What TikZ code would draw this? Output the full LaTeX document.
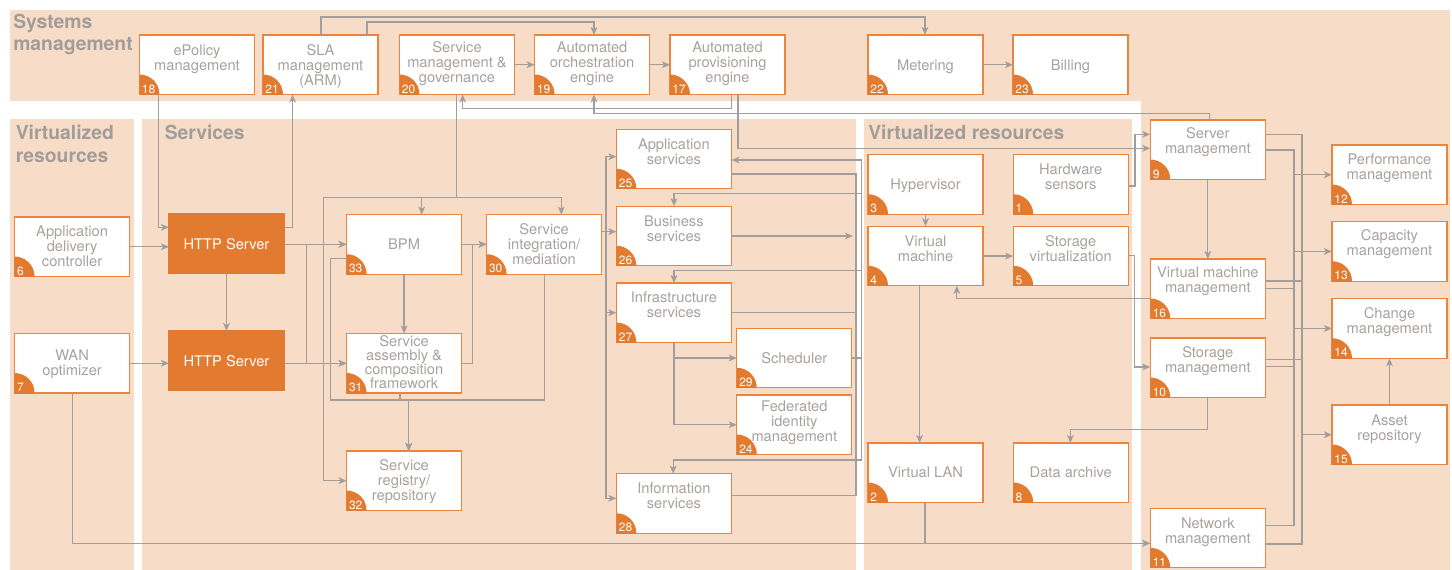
\documentclass[tikz,border=0pt]{standalone}
\usepackage{fontspec}
\setmainfont{TeX Gyre Heros}
\usetikzlibrary{arrows.meta,calc}
\definecolor{peach}{HTML}{F7DCC8}
\definecolor{org}{HTML}{E27A30}
\definecolor{orgline}{HTML}{E9853F}
\definecolor{txtg}{HTML}{A8A29E}
\definecolor{ttlg}{HTML}{A39D99}
\definecolor{lineg}{HTML}{A39E9B}
\tikzset{
  box/.style={draw=orgline, line width=0.85pt, fill=white, minimum width=86.25pt, minimum height=44.625pt, inner sep=0pt, outer sep=0pt},
  hbox/.style={draw=org, fill=org, line width=0.85pt, minimum width=86.25pt, minimum height=44.625pt, inner sep=0pt, outer sep=0pt, text=white, font=\fontsize{11}{11.25}\selectfont},
  lbl/.style={inner sep=0pt, align=center, text=txtg, font=\fontsize{11}{11.25}\selectfont},
  num/.style={inner sep=0pt, text=white, font=\fontsize{9}{9.5}\selectfont},
  ttl/.style={inner sep=0pt, align=left, text=ttlg, font=\fontsize{14.5}{16.5}\bfseries\selectfont},
  conn/.style={draw=lineg, line width=1pt},
  arr/.style={conn, -{Stealth[length=6pt,width=5pt,inset=1.5pt]}},
}
\newcommand\bx[7][]{%
  \node[box] (#2) at (#3+57.5,#4+29.75) {};
  \node[lbl,anchor=north,#1] (#2t) at (#3+57.5,#4+#6-12) {\rule{0pt}{9pt}#7};
  \begin{scope}
    \clip (#2.south west) rectangle (#2.north east);
    \fill[org] (#2.south west) circle[radius=20];
  \end{scope}
  \node[num,anchor=base west] (#2n) at ($(#2.south west)+(2.2,-1.4)$) {#5};
}
\begin{document}
\begin{tikzpicture}[x=0.75pt,y=-0.75pt]
\useasboundingbox (0,0) rectangle (1452,570);
% backgrounds
\fill[peach] (10,10) rectangle (1450,101);
\fill[peach] (1141,10) rectangle (1450,570);
\fill[peach] (10,119) rectangle (134,570);
\fill[peach] (142,119) rectangle (856,570);
\fill[peach] (864,119) rectangle (1132,570);
% titles
\node[ttl,anchor=north west] (tsys) at (13,13.6) {\rule{0pt}{11pt}Systems\\management};
\node[ttl,anchor=north west,font=\fontsize{14.5}{17.25}\bfseries\selectfont] (tvl) at (15.5,124.6) {\rule{0pt}{11pt}Virtualized\\resources};
\node[ttl,anchor=north west] (tsv) at (164.5,124.6) {\rule{0pt}{11pt}Services};
\node[ttl,anchor=north west] (tvm) at (868,124.6) {\rule{0pt}{11pt}Virtualized resources};
% boxes
\bx{n18}{139.5}{35}{18}{20}{ePolicy\\management}
\bx{n21}{263}{35}{21}{20}{SLA\\management\\(ARM)}
\bx{n20}{399.5}{35}{20}{17.7}{Service\\management \&\\governance}
\bx{n19}{534.6}{35}{19}{17.7}{Automated\\orchestration\\engine}
\bx{n17}{670}{35}{17}{17.7}{Automated\\provisioning\\engine}
\bx{n22}{868}{35}{22}{35}{Metering}
\bx{n23}{1013}{35}{23}{35}{Billing}
\bx{n6}{14.6}{217}{6}{19.7}{Application\\delivery\\controller}
\bx{n7}{14.6}{333.5}{7}{27}{WAN\\optimizer}
\node[hbox] (http1) at (226.5,243.75) {HTTP Server};
\node[hbox] (http2) at (226.5,360.75) {HTTP Server};
\bx{n33}{346.6}{214.7}{33}{35}{BPM}
\bx{n30}{486.6}{214.7}{30}{19.5}{Service\\integration/\\mediation}
\bx[font=\fontsize{11}{10.5}\selectfont]{n31}{346.6}{333.5}{31}{12.7}{Service\\assembly \&\\composition\\framework}
\bx{n32}{346.6}{451}{32}{19.7}{Service\\registry/\\repository}
\bx{n25}{616.4}{129.3}{25}{20}{Application\\services}
\bx{n26}{616.4}{206.3}{26}{19.7}{Business\\services}
\bx{n27}{616.4}{283}{27}{19.7}{Infrastructure\\services}
\bx{n29}{736.8}{328.3}{29}{35}{Scheduler}
\bx[font=\fontsize{11}{10.9}\selectfont]{n24}{736.8}{395}{24}{16.7}{Federated\\identity\\management}
\bx{n28}{616.4}{473.7}{28}{19.6}{Information\\services}
\bx{n3}{868}{154.7}{3}{34.6}{Hypervisor}
\bx{n1}{1013.2}{154.7}{1}{19.3}{Hardware\\sensors}
\bx{n4}{868}{226.3}{4}{20}{Virtual\\machine}
\bx{n5}{1013.2}{226.3}{5}{19.7}{Storage\\virtualization}
\bx{n2}{868}{443}{2}{34.7}{Virtual LAN}
\bx{n8}{1013.2}{443}{8}{34.7}{Data archive}
\bx{n9}{1150.3}{120}{9}{18.5}{Server\\management}
\bx{n16}{1150.3}{259}{16}{18.7}{Virtual machine\\management}
\bx{n10}{1150.3}{338}{10}{19}{Storage\\management}
\bx{n11}{1150.3}{508.3}{11}{20}{Network\\management}
\bx{n12}{1332}{145}{12}{19}{Performance\\management}
\bx{n13}{1332}{221.7}{13}{19}{Capacity\\management}
\bx{n14}{1332}{298.7}{14}{19.6}{Change\\management}
\bx{n15}{1332}{405}{15}{20}{Asset\\repository}
% top connectors
\draw[arr] (n21.north -| 321,0) |- (925,17) -- (n22.north -| 925,0);
\draw[arr] (n21.north -| 367,0) |- (594,22) -- (n19.north -| 594,0);
\draw[arr] (n20) -- (n19);
\draw[arr] (n19) -- (n17);
\draw[arr] (n22) -- (n23);
\draw[arr] (n17.south -| 731.7,0) |- (462.7,108.3) -- (n20.south -| 462.7,0);
\draw[arr] (n9.north -| 1209.7,0) |- (594,113.3) -- (n19.south -| 594,0);
\draw[arr] (n17.south -| 738,0) |- (n9.west |- 0,148.3);
\draw[arr] (n1.east |- 0,186) -| (1135,134.3) -- (n9.west |- 0,134.3);
% services
\draw[arr] (n20.south -| 456.5,0) |- (561.3,197.7) -- (n30.north -| 561.3,0);
\draw[arr] (n20.south -| 456.5,0) |- (421.7,197.7) -- (n33.north -| 421.7,0);
\draw[arr] (n20.south -| 456.5,0) |- (323.3,197.7) |- (n32.west |- 0,480.7);
\draw[arr] (n18.south -| 158.3,0) |- (http1.west |- 0,227.3);
\draw[arr] (http1.east |- 0,227.3) -| (n21.south -| 292.6,0);
\draw[arr] (n6.east) -- (n6.east -| http1.west);
\draw[arr] (n7.east) -- (n7.east -| http2.west);
\draw[arr] (http1) -- (http2);
\draw[arr] (http1.east |- 0,244.3) -- (n33.west |- 0,244.3);
\draw[arr] (http2.east |- 0,363.3) -- (n31.west |- 0,363.3);
\draw[arr] (http1.east |- 0,244.3) -| (306.3,363.3) -- (n31.west |- 0,363.3);
\draw[arr] (http2.east |- 0,363.3) -| (306.3,244.3) -- (n33.west |- 0,244.3);
\draw[arr] (n33.east |- 0,244.3) -- (n30.west |- 0,244.3);
\draw[arr] (n31.east |- 0,363.3) -| (472.3,244.3) -- (n30.west |- 0,244.3);
\draw[arr] (n33) -- (n31);
\draw[arr] (n33.west |- 0,258.7) -| (330.4,400) -| (n32.north -| 408.7,0);
\draw[arr] (n30.south -| 544.7,0) |- (408.7,400) -- (n32.north -| 408.7,0);
\draw[arr] (n31.south -| 400,0) |- (408.7,400) -- (n32.north -| 408.7,0);
\draw[arr] (n30.east |- 0,231.7) -| (606,156.7) -- (n25.west |- 0,156.7);
\draw[arr] (n30.east |- 0,231.7) -- (n26.west |- 0,231.7);
\draw[arr] (n30.east |- 0,231.7) -| (606,312.7) -- (n27.west |- 0,312.7);
\draw[arr] (n30.east |- 0,231.7) -| (606,498.3) -- (n28.west |- 0,498.3);
\draw[arr] (n29.east) -| (861.7,160) -- (n25.east |- 0,160);
\draw[arr] (n29.east) -| (861.7,193.3) -| (n26.north -| 674,0);
\draw[arr] (n29.east) -| (861.7,270.7) -| (n27.north -| 674,0);
\draw[arr] (n29.east) -| (861.7,460) -| (n28.north -| 673.2,0);
\draw[conn] (n25.east |- 0,174) -| (856,495.7) -- (n28.east |- 0,495.7);
\draw[conn] (n27.east |- 0,312.7) -- (856,312.7);
\draw[arr] (n26.east |- 0,236) -- (853,236);
\draw[arr] (n27.south -| 674,0) |- (n29.west);
\draw[arr] (n27.south -| 674,0) |- (n24.west);
% virtualized resources
\draw[arr] (n3) -- (n4);
\draw[arr] (n4) -- (n5);
\draw[arr] (n4.south -| 919.6,0) -- (n2.north -| 919.6,0);
\draw[arr] (n16.west |- 0,298.3) -| (n4.south -| 956.8,0);
\draw[arr] (n5.east |- 0,255.7) -| (1134.6,367) -- (n10.west |- 0,367);
\draw[arr] (n7.south -| 72.3,0) |- (n11.west |- 0,543.3);
\draw[arr] (n2.south -| 925,0) |- (n11.west |- 0,543.3);
\draw[arr] (n10.south -| 1207.7,0) |- (1070.4,429.3) -- (n8.north -| 1070.4,0);
\draw[arr] (n9) -- (n16);
% management buses
\draw[conn] (n9.east |- 0,150) -| (1294,525.7) -- (n11.east |- 0,525.7);
\draw[conn] (n16.east |- 0,288.3) -- (1294,288.3);
\draw[conn] (n10.east |- 0,366.7) -- (1294,366.7);
\draw[conn] (n9.east |- 0,134.3) -| (1302,544) -- (n11.east |- 0,544);
\draw[conn] (n16.east |- 0,281) -- (1302,281);
\draw[conn] (n10.east |- 0,359.3) -- (1302,359.3);
\draw[arr] (n12.west -| 1294,0) -- (n12.west);
\draw[arr] (n13.west -| 1294,0) -- (n13.west);
\draw[arr] (n14.west -| 1294,0) -- (n14.west);
\draw[arr] (n15.west -| 1302,0) -- (n15.west);
\draw[arr] (n15) -- (n14);
\end{tikzpicture}
\end{document}
